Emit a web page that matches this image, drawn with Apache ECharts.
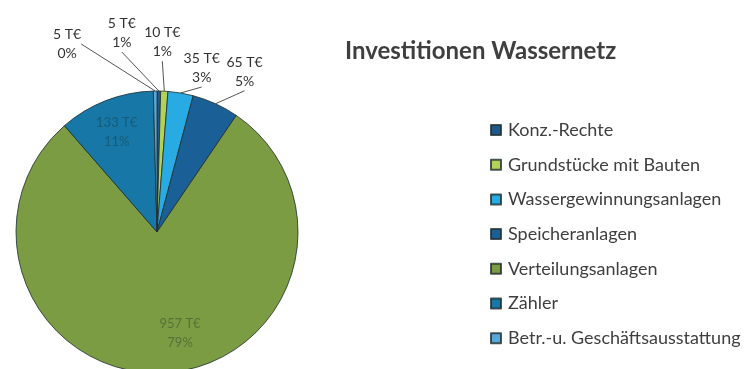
<!DOCTYPE html>
<html>
<head>
<meta charset="utf-8">
<script src="https://cdn.jsdelivr.net/npm/echarts@6/dist/echarts.min.js"></script>
<style>
  html, body { margin: 0; padding: 0; background: #ffffff; }
  #chart { width: 744px; height: 369px; }
</style>
</head>
<body>
<div id="chart"></div>
<script>
// Investment breakdown of the water network (values in thousand euros)
const categories = [
  'Konz.-Rechte',
  'Grundstücke mit Bauten',
  'Wassergewinnungsanlagen',
  'Speicheranlagen',
  'Verteilungsanlagen',
  'Zähler',
  'Betr.-u. Geschäftsausstattung'
];
const valuesTEUR = [5, 10, 35, 65, 957, 133, 5];
const shareLabels = ['1%', '1%', '3%', '5%', '79%', '11%', '0%'];

const sliceColors = ['#1f5a8c', '#b3d25a', '#27abe2', '#1b5f97', '#7b9c43', '#1777a6', '#5aa8da'];

// pie geometry
const CX = 157, CY = 232, R = 141;

// label placement: outer labels are offset from the slice's rim point,
// inner labels sit at a fraction of the radius along the slice's bisector
const labelPlacement = {
  0: { r: 1.0, dx: -37, dy: -58 },
  1: { r: 1.0, dx: -2, dy: -49 },
  2: { r: 1.0, dx: 21, dy: -25 },
  3: { r: 1.0, dx: 29, dy: -32 },
  4: { r: 0.72, dx: 17, dy: 0 },
  5: { r: 0.75, dx: -2, dy: -1 },
  6: { r: 1.0, dx: -88, dy: -47 }
};
const innerLabels = { 4: true, 5: true };

const total = valuesTEUR.reduce((a, b) => a + b, 0);
const midAngles = [];
(function () {
  let acc = 0;
  valuesTEUR.forEach(v => {
    midAngles.push(((acc + v / 2) / total) * Math.PI * 2);
    acc += v;
  });
})();

const labelText = p => valuesTEUR[p.dataIndex] + ' T€\n' + shareLabels[p.dataIndex];

const outerLabelStyle = {
  show: true,
  position: 'outside',
  color: '#333333',
  fontFamily: 'Lato',
  fontSize: 14,
  lineHeight: 19,
  formatter: labelText
};
const innerLabelStyle = {
  show: true,
  position: 'inside',
  color: 'rgba(25,45,35,0.38)',
  fontFamily: 'Lato',
  fontSize: 13,
  lineHeight: 19,
  formatter: labelText
};

const pieData = categories.map((name, i) => ({
  name: name,
  value: valuesTEUR[i],
  itemStyle: { color: sliceColors[i] },
  label: innerLabels[i] ? innerLabelStyle : outerLabelStyle,
  labelLine: { show: !innerLabels[i] }
}));

const chart = echarts.init(document.getElementById('chart'), null, { renderer: 'canvas' });

chart.setOption({
  animation: false,
  backgroundColor: '#ffffff',
  title: {
    text: 'Investitionen Wassernetz',
    left: 340,
    top: 34,
    textStyle: {
      fontFamily: 'Lato',
      fontWeight: 'bold',
      fontSize: 24,
      color: '#3f3f3f'
    }
  },
  legend: {
    orient: 'vertical',
    left: 485,
    top: 115,
    itemWidth: 10,
    itemHeight: 10,
    itemGap: 14.7,
    icon: 'rect',
    textStyle: {
      fontFamily: 'Lato',
      fontSize: 18,
      lineHeight: 20,
      color: '#3f3f3f',
      padding: [0, 0, 0, 2]
    },
    data: categories
  },
  series: [{
    type: 'pie',
    center: [CX, CY],
    radius: R,
    startAngle: 90,
    clockwise: true,
    avoidLabelOverlap: false,
    silent: true,
    itemStyle: {
      borderColor: 'rgba(30,45,45,0.8)',
      borderWidth: 1
    },
    labelLine: {
      length: 4,
      length2: 0,
      lineStyle: { color: '#555555', width: 1 }
    },
    labelLayout: function (params) {
      const i = params.dataIndex;
      const pl = labelPlacement[i];
      const a = midAngles[i];
      const r = R * pl.r;
      return {
        x: CX + r * Math.sin(a) + pl.dx,
        y: CY - r * Math.cos(a) + pl.dy,
        align: 'center',
        verticalAlign: 'middle'
      };
    },
    data: pieData
  }]
});
</script>
</body>
</html>
